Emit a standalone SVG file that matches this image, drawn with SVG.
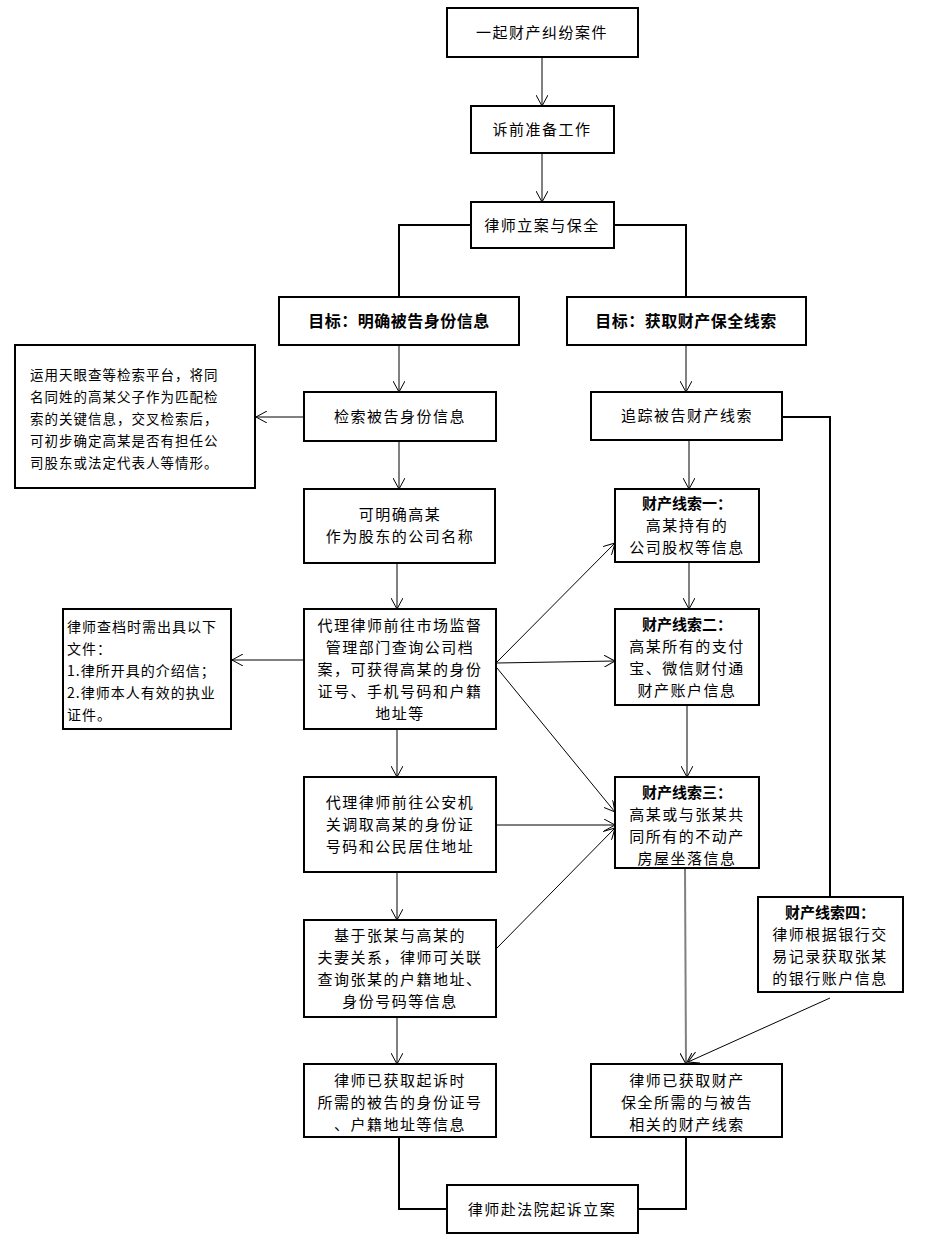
<svg xmlns="http://www.w3.org/2000/svg" width="940" height="1244" viewBox="0 0 940 1244">
<defs>
<marker id="a" viewBox="0 0 12 12" refX="11" refY="6" markerWidth="12" markerHeight="12" markerUnits="userSpaceOnUse" orient="auto"><path d="M0,0 L11,6 L0,12" fill="none" stroke="#000" stroke-width="1"/></marker>
</defs>
<style>
rect{fill:#fff;stroke:#000;stroke-width:2}
text{font-family:"Noto Sans CJK SC",sans-serif;font-size:15px;fill:#000;text-anchor:middle;letter-spacing:1.5px}
.b{font-weight:bold}
.l{text-anchor:start}
.g{stroke:#808080;stroke-width:2;fill:none}
.k{stroke:#000;stroke-width:1;fill:none}
</style>
<rect width="940" height="1244" style="fill:#fff;stroke:none"/>
<g id="connectors">
<path class="g" d="M542,57 V106" marker-end="url(#a)"/>
<path class="g" d="M542,153 V202" marker-end="url(#a)"/>
<path class="k" style="stroke-width:2" d="M471,225 H399 V297 M614,225 H686 V297"/>
<path class="g" d="M399,345 V392" marker-end="url(#a)"/>
<path class="g" d="M304,417 H256" marker-end="url(#a)"/>
<path class="g" d="M399,441 V489" marker-end="url(#a)"/>
<path class="g" d="M397,563 V609" marker-end="url(#a)"/>
<path class="g" d="M304,660 H232" marker-end="url(#a)"/>
<path class="g" d="M397,729 V777" marker-end="url(#a)"/>
<path class="g" d="M397,872 V920" marker-end="url(#a)"/>
<path class="g" d="M397,1017 V1064" marker-end="url(#a)"/>
<path class="k" style="stroke-width:2" d="M399,1137 V1209 H447 M686,1137 V1209 H638"/>
<path class="g" d="M686,345 V392" marker-end="url(#a)"/>
<path class="g" d="M689,440 V489" marker-end="url(#a)"/>
<path class="g" d="M689,562 V609" marker-end="url(#a)"/>
<path class="g" d="M687,705 V777" marker-end="url(#a)"/>
<path class="g" d="M685,868 L686,1064" marker-end="url(#a)"/>
<path class="k" style="stroke-width:2" d="M782,417 H830 V897"/>
<path class="k" d="M830,998 L688,1062" marker-end="url(#a)"/>
<path class="k" d="M497,662 L615,543" marker-end="url(#a)"/>
<path class="k" d="M497,663 L615,661" marker-end="url(#a)"/>
<path class="k" d="M497,668 L615,812" marker-end="url(#a)"/>
<path class="k" d="M497,825 L615,825" marker-end="url(#a)"/>
<path class="k" d="M497,948 L615,828" marker-end="url(#a)"/>
</g>
<g id="n1"><rect x="447" y="8" width="191" height="49"/><text x="542" y="38">一起财产纠纷案件</text></g>
<g id="n2"><rect x="471" y="106" width="143" height="47"/><text x="542" y="135">诉前准备工作</text></g>
<g id="n3"><rect x="471" y="202" width="143" height="46"/><text x="542" y="231">律师立案与保全</text></g>
<g id="g1"><rect x="279" y="297" width="240" height="48"/><text class="b" x="399" y="327" style="font-size:16px;letter-spacing:0.5px">目标：明确被告身份信息</text></g>
<g id="g2"><rect x="567" y="297" width="239" height="48"/><text class="b" x="686" y="327" style="font-size:16px;letter-spacing:0.5px">目标：获取财产保全线索</text></g>
<g id="note1"><rect x="15" y="345" width="240" height="143"/>
<text class="l" x="30" y="380" style="font-size:13.5px;letter-spacing:1px">运用天眼查等检索平台，将同</text>
<text class="l" x="30" y="402" style="font-size:13.5px;letter-spacing:1px">名同姓的高某父子作为匹配检</text>
<text class="l" x="30" y="424" style="font-size:13.5px;letter-spacing:1px">索的关键信息，交叉检索后，</text>
<text class="l" x="30" y="446" style="font-size:13.5px;letter-spacing:1px">可初步确定高某是否有担任公</text>
<text class="l" x="30" y="468" style="font-size:13.5px;letter-spacing:1px">司股东或法定代表人等情形。</text></g>
<g id="s1"><rect x="304" y="392" width="192" height="49"/><text x="400" y="422">检索被告身份信息</text></g>
<g id="s2"><rect x="304" y="489" width="191" height="74"/><text x="400" y="520">可明确高某</text><text x="400" y="542">作为股东的公司名称</text></g>
<g id="s3"><rect x="304" y="609" width="192" height="120"/><text x="400" y="631">代理律师前往市场监督</text><text x="400" y="653">管理部门查询公司档</text><text x="400" y="675">案，可获得高某的身份</text><text x="400" y="697">证号、手机号码和户籍</text><text x="400" y="719">地址等</text></g>
<g id="note2"><rect x="63" y="609" width="168" height="120"/>
<text class="l" x="67" y="632" style="font-size:14px;letter-spacing:1px">律师查档时需出具以下</text>
<text class="l" x="67" y="654" style="font-size:14px;letter-spacing:1px">文件：</text>
<text class="l" x="67" y="676" style="font-size:14px;letter-spacing:1px">1.律所开具的介绍信；</text>
<text class="l" x="67" y="698" style="font-size:14px;letter-spacing:1px">2.律师本人有效的执业</text>
<text class="l" x="67" y="720" style="font-size:14px;letter-spacing:1px">证件。</text></g>
<g id="s4"><rect x="304" y="777" width="192" height="95"/><text x="400" y="808">代理律师前往公安机</text><text x="400" y="830">关调取高某的身份证</text><text x="400" y="852">号码和公民居住地址</text></g>
<g id="s5"><rect x="304" y="920" width="192" height="97"/><text x="400" y="941">基于张某与高某的</text><text x="400" y="963">夫妻关系，律师可关联</text><text x="400" y="985">查询张某的户籍地址、</text><text x="400" y="1007">身份号码等信息</text></g>
<g id="s6"><rect x="304" y="1064" width="192" height="73"/><text x="400" y="1086">律师已获取起诉时</text><text x="400" y="1108">所需的被告的身份证号</text><text x="400" y="1130">、户籍地址等信息</text></g>
<g id="r0"><rect x="591" y="392" width="191" height="48"/><text x="687" y="421">追踪被告财产线索</text></g>
<g id="r1"><rect x="615" y="489" width="144" height="73"/><text class="b" x="687" y="509" style="letter-spacing:0">财产线索一：</text><text x="687" y="531">高某持有的</text><text x="687" y="553">公司股权等信息</text></g>
<g id="r2"><rect x="615" y="609" width="144" height="96"/><text class="b" x="687" y="630" style="letter-spacing:0">财产线索二：</text><text x="687" y="652">高某所有的支付</text><text x="687" y="674">宝、微信财付通</text><text x="687" y="696">财产账户信息</text></g>
<g id="r3"><rect x="615" y="777" width="144" height="91"/><text class="b" x="687" y="798" style="letter-spacing:0">财产线索三：</text><text x="687" y="820">高某或与张某共</text><text x="687" y="842">同所有的不动产</text><text x="687" y="864">房屋坐落信息</text></g>
<g id="r4"><rect x="758" y="897" width="145" height="95"/><text class="b" x="830" y="918" style="letter-spacing:0">财产线索四：</text><text x="830" y="940">律师根据银行交</text><text x="830" y="962">易记录获取张某</text><text x="830" y="984">的银行账户信息</text></g>
<g id="r5"><rect x="591" y="1064" width="191" height="73"/><text x="687" y="1086">律师已获取财产</text><text x="687" y="1108">保全所需的与被告</text><text x="687" y="1130">相关的财产线索</text></g>
<g id="end"><rect x="447" y="1185" width="191" height="48"/><text x="542" y="1215">律师赴法院起诉立案</text></g>
</svg>
